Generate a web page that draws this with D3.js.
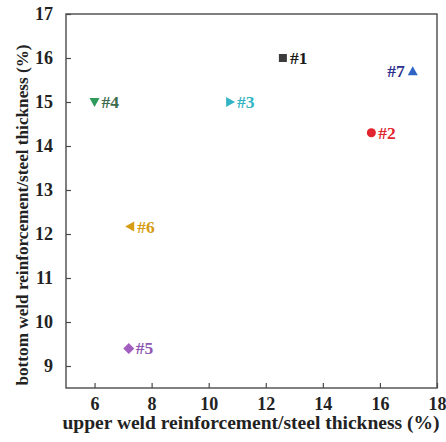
<!DOCTYPE html>
<html>
<head>
<meta charset="utf-8">
<script src="https://cdn.jsdelivr.net/npm/d3@7"></script>
<style>
  body { margin: 0; background: #fff; }
  text { font-family: "Liberation Serif", "Times New Roman", serif; font-weight: bold; }
</style>
</head>
<body>
<div class="chart"></div>
<script>
const w = 446;
const h = 442;

// data
const labels = ["#1", "#2", "#3", "#4", "#5", "#6", "#7"];
const upperVals = [12.6, 15.7, 10.75, 6.0, 7.2, 7.25, 17.15];
const bottomVals = [16.0, 14.3, 15.0, 15.0, 9.4, 12.17, 15.7];
const shapes = ["square", "circle", "right", "down", "diamond", "left", "up"];
const markerColors = ["#3c3c3c", "#e2252f", "#32b4c4", "#2e9a5c", "#a25fc0", "#d69c14", "#2f64c4"];
const labelColors = ["#1a1a1a", "#e2252f", "#32b4c4", "#3d6b4c", "#8e58b0", "#d69c14", "#2c2f8c"];
const xTicks = [6, 8, 10, 12, 14, 16, 18];
const yTicks = [9, 10, 11, 12, 13, 14, 15, 16, 17];

const padL = 66, padR = 437, padT = 14, padB = 388;

const svg = d3.select(".chart").append("svg")
  .attr("width", w)
  .attr("height", h);

const xScale = d3.scaleLinear().domain([5, 18]).range([padL, padR]);
const yScale = d3.scaleLinear().domain([8.5, 17]).range([padB, padT]);

// frame
svg.append("rect")
  .attr("x", padL).attr("y", padT)
  .attr("width", padR - padL).attr("height", padB - padT)
  .attr("fill", "none").attr("stroke", "#4a4a4a").attr("stroke-width", 1.4);

const xAxis = d3.axisBottom(xScale).tickValues(xTicks).tickSizeInner(-5).tickSizeOuter(0).tickPadding(9);
const gx = svg.append("g")
  .attr("transform", "translate(0," + padB + ")")
  .call(xAxis);
gx.select(".domain").remove();
gx.selectAll("line").attr("stroke", "#4a4a4a").attr("stroke-width", 1.2);
gx.selectAll("text").attr("font-size", 18).attr("fill", "#222")
  .style("font-family", "Liberation Serif").style("font-weight", "bold");

const yAxis = d3.axisLeft(yScale).tickValues(yTicks).tickSizeInner(-5).tickSizeOuter(0).tickPadding(13);
const gy = svg.append("g")
  .attr("transform", "translate(" + padL + ",0)")
  .call(yAxis);
gy.select(".domain").remove();
gy.selectAll("line").attr("stroke", "#4a4a4a").attr("stroke-width", 1.2);
gy.selectAll("text").attr("font-size", 18).attr("fill", "#222")
  .style("font-family", "Liberation Serif").style("font-weight", "bold");

// axis titles
svg.append("text")
  .attr("x", 251)
  .attr("y", 429)
  .attr("text-anchor", "middle")
  .attr("font-size", 19.5)
  .attr("fill", "#222")
  .text("upper weld reinforcement/steel thickness (%)");

svg.append("text")
  .attr("transform", "translate(28,215) rotate(-90)")
  .attr("text-anchor", "middle")
  .attr("font-size", 17.2)
  .attr("fill", "#222")
  .text("bottom weld reinforcement/steel thickness (%)");

// markers
const s = 4;
const shapePath = {
  square: `M${-s},${-s}h${2*s}v${2*s}h${-2*s}Z`,
  circle: d3.symbol(d3.symbolCircle, 64)(),
  diamond: `M0,${-s-1.5}L${s+1.5},0L0,${s+1.5}L${-s-1.5},0Z`,
  up: `M0,${-s-1}L${s+1},${s}L${-s-1},${s}Z`,
  down: `M0,${s+1}L${s+1},${-s}L${-s-1},${-s}Z`,
  left: `M${-s-1},0L${s},${-s-1}L${s},${s+1}Z`,
  right: `M${s+1},0L${-s},${-s-1}L${-s},${s+1}Z`
};

const pts = labels.map((l, i) => ({ l, x: upperVals[i], y: bottomVals[i], shape: shapes[i], mc: markerColors[i], lc: labelColors[i] }));

svg.selectAll("path.pt")
  .data(pts)
  .enter()
  .append("path")
  .attr("class", "pt")
  .attr("transform", d => "translate(" + xScale(d.x) + "," + yScale(d.y) + ")")
  .attr("d", d => shapePath[d.shape])
  .attr("fill", d => d.mc);

svg.selectAll("text.lbl")
  .data(pts)
  .enter()
  .append("text")
  .attr("class", "lbl")
  .attr("x", d => d.l === "#7" ? xScale(d.x) - 8 : xScale(d.x) + 7)
  .attr("y", d => yScale(d.y) + 6)
  .attr("text-anchor", d => d.l === "#7" ? "end" : "start")
  .attr("font-size", 17.5)
  .attr("fill", d => d.lc)
  .text(d => d.l);
</script>
</body>
</html>
